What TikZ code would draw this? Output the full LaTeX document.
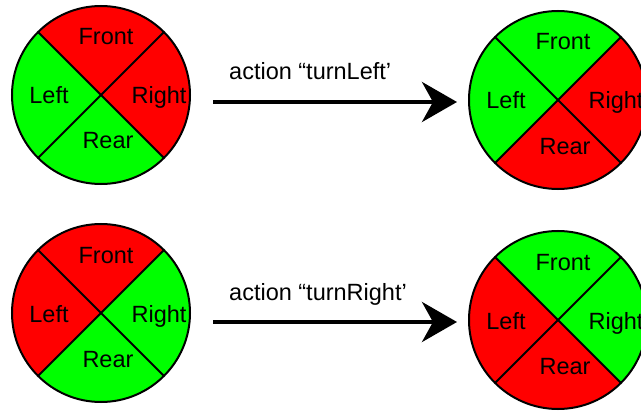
\documentclass[tikz,border=0pt]{standalone}
\usepackage{fontspec}
\setmainfont{Liberation Sans}
\usetikzlibrary{arrows.meta}

\definecolor{rouge}{HTML}{FF0000}
\definecolor{vert}{HTML}{00FF00}

% \roue{nom}{position}{avant}{droite}{arriere}{gauche}
\newcommand{\roue}[6]{%
  \node[roue, path picture={
      \foreach \ang/\coul in {90/#3, 0/#4, 270/#5, 180/#6}
        \fill[\coul] (path picture bounding box.center) -- +(\ang-45:150pt) -- +(\ang+45:150pt) -- cycle;
      \draw[line width=2pt] (path picture bounding box.center) +(45:150pt) -- +(225:150pt) +(135:150pt) -- +(315:150pt);
    }] (#1) at (#2) {};
  \node[texte] (#1-avant) at ([shift={(5,-50)}]#1.center) {Front};
  \node[texte] (#1-gauche) at ([shift={(-52,9)}]#1.center) {Left};
  \node[texte] (#1-droite) at ([shift={(58,9)}]#1.center) {Right};
  \node[texte] (#1-arriere) at ([shift={(7,54)}]#1.center) {Rear};
}

\begin{document}
\begin{tikzpicture}[
    x=1pt, y=-1pt,
    roue/.style={circle, draw, line width=2pt, inner sep=0pt, outer sep=0pt, minimum size=178pt},
    texte/.style={anchor=base, inner sep=0pt, font=\fontsize{23.5}{28}\selectfont},
    fleche/.style={line width=4pt, -{Stealth[length=35pt, width=40pt, inset=11pt]}}
  ]
  \clip (0,0) rectangle (641,412);

  % Rangee du haut : turnLeft
  \roue{hg}{101,95}{rouge}{rouge}{vert}{vert}
  \roue{hd}{558,100}{vert}{rouge}{rouge}{vert}
  \coordinate (f1-debut) at (213,102);
  \coordinate (f1-fin) at (457,102);
  \draw[fleche] (f1-debut) -- (f1-fin);
  \node[texte, anchor=base west] (action-gauche) at (229,80) {action “turnLeft’};

  % Rangee du bas : turnRight
  \roue{bg}{101,313}{rouge}{vert}{vert}{rouge}
  \roue{bd}{558,320}{vert}{vert}{rouge}{rouge}
  \coordinate (f2-debut) at (213,322);
  \coordinate (f2-fin) at (457,322);
  \draw[fleche] (f2-debut) -- (f2-fin);
  \node[texte, anchor=base west] (action-droite) at (229,300) {action “turnRight’};
\end{tikzpicture}
\end{document}
